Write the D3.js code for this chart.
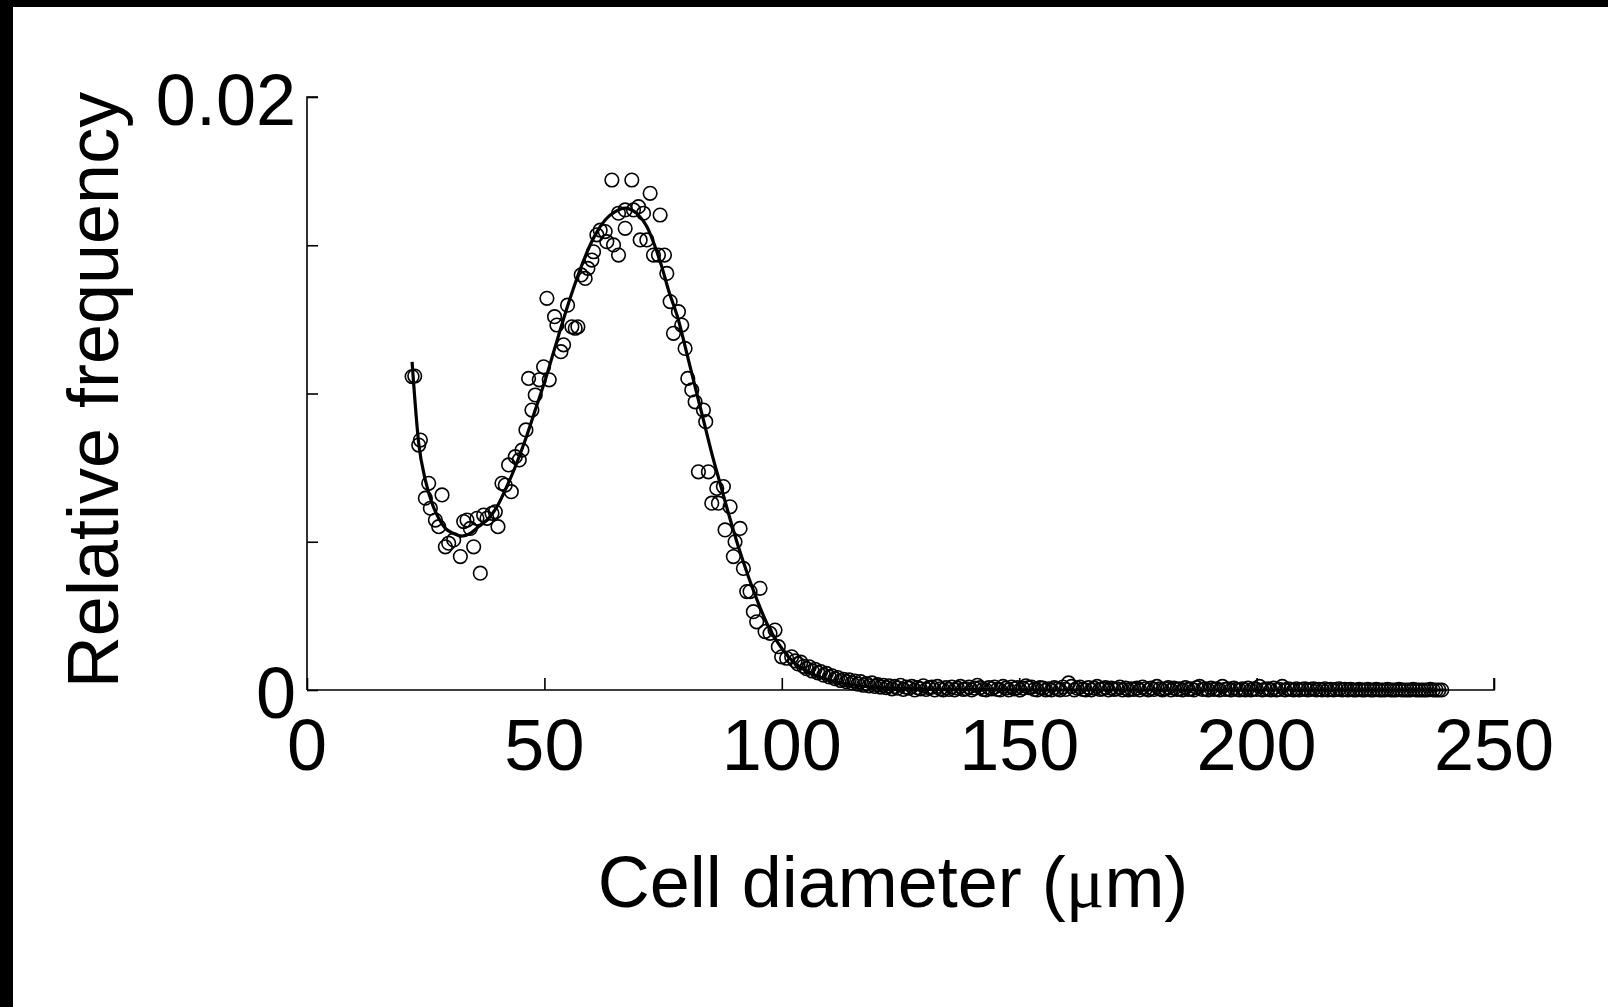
<!DOCTYPE html>
<html>
<head>
<meta charset="utf-8">
<script src="https://cdn.jsdelivr.net/npm/d3@7"></script>
<style>
  html, body { margin: 0; padding: 0; background: #fff; }
  svg { display: block; }
  text { font-family: "Liberation Sans", Arial, Helvetica, sans-serif; fill: #000; }
</style>
</head>
<body>
<svg id="chart" width="1608" height="1007"></svg>
<script>
// ---- data ----
const xTicks = [0, 50, 100, 150, 200, 250];
const xTickLabels = ["0", "50", "100", "150", "200", "250"];
const yTicks = [0, 0.005, 0.01, 0.015, 0.02];
const yTickLabels = ["0", "", "", "", "0.02"];

// measured points, main part (diameter in µm, relative frequency)
const humpDiameters = [22.13,22.69,23.53,23.88,24.93,25.63,25.98,27.04,27.74,28.44,29.14,29.84,30.89,32.30,33.00,33.70,34.40,35.10,35.80,36.50,37.20,37.91,38.96,39.66,40.22,41.06,41.76,42.46,43.03,43.87,44.71,45.27,46.11,46.67,47.37,48.07,48.92,49.83,50.53,51.02,52.14,52.63,53.48,54.04,54.88,55.79,56.49,57.05,57.75,58.59,59.16,60.00,60.35,61.05,61.75,62.80,63.15,64.21,64.56,65.61,65.61,67.01,67.01,68.41,68.76,69.81,70.17,70.87,71.57,72.27,72.97,74.02,74.37,75.29,75.78,76.48,77.18,78.23,78.93,79.63,80.20,81.04,81.74,82.44,83.49,83.98,84.54,85.25,86.30,86.65,87.70,88.05,89.10,89.80,90.15,91.21,91.91,92.61,93.31,94.01,94.71,95.41,96.47,97.52,98.57,99.27,99.97,101.02,102.08];
const humpFrequencies = [0.01057,0.01059,0.00826,0.00843,0.00647,0.00697,0.00613,0.00573,0.00551,0.00658,0.00483,0.00495,0.00506,0.00450,0.00568,0.00573,0.00545,0.00483,0.00579,0.00394,0.00590,0.00579,0.00596,0.00601,0.00551,0.00697,0.00691,0.00759,0.00669,0.00787,0.00776,0.00809,0.00877,0.01051,0.00944,0.00995,0.01046,0.01090,0.01321,0.01046,0.01259,0.01231,0.01141,0.01164,0.01298,0.01225,0.01220,0.01225,0.01400,0.01388,0.01422,0.01450,0.01478,0.01535,0.01551,0.01546,0.01512,0.01720,0.01501,0.01467,0.01608,0.01557,0.01619,0.01720,0.01619,0.01630,0.01518,0.01608,0.01518,0.01675,0.01467,0.01467,0.01602,0.01467,0.01405,0.01310,0.01203,0.01276,0.01231,0.01152,0.01051,0.01012,0.00972,0.00736,0.00944,0.00905,0.00736,0.00630,0.00680,0.00630,0.00686,0.00540,0.00618,0.00450,0.00500,0.00545,0.00410,0.00332,0.00332,0.00264,0.00230,0.00343,0.00197,0.00191,0.00202,0.00146,0.00112,0.00107,0.00112];

// measured points, tail (bins from 102.8 µm every 0.6 µm)
const tailStart = 102.8, tailStep = 0.6;
const tailFrequencies = [
  0.00098,0.00088,0.00094,0.00080,0.00072,0.00078,0.00064,0.00070,0.00058,0.00062,
  0.00050,0.00056,0.00044,0.00048,0.00038,0.00042,0.00032,0.00036,0.00028,0.00034,
  0.00024,0.00030,0.00020,0.00028,0.00016,0.00022,0.00014,0.00024,0.00012,0.00018,
  0.00010,0.00016,0.00008,0.00014,0.00004,0.00012,0.00006,0.00016,0.00002,0.00010,
  0.00006,0.00012,0.00000,0.00008,0.00004,0.00014,0.00002,0.00008,0.00010,0.00000,
  0.00012,0.00004,0.00000,0.00008,0.00002,0.00010,0.00000,0.00006,0.00012,0.00002,
  0.00004,0.00010,0.00000,0.00006,0.00016,0.00008,0.00002,0.00000,0.00008,0.00004,
  0.00010,0.00002,0.00000,0.00012,0.00006,0.00000,0.00010,0.00004,0.00008,0.00000,
  0.00006,0.00014,0.00008,0.00010,0.00002,0.00000,0.00008,0.00006,0.00000,0.00004,
  0.00000,0.00008,0.00004,0.00000,0.00010,0.00002,0.00024,0.00012,0.00000,0.00006,
  0.00010,0.00002,0.00000,0.00008,0.00000,0.00006,0.00012,0.00002,0.00004,0.00008,
  0.00000,0.00006,0.00002,0.00004,0.00010,0.00000,0.00006,0.00000,0.00004,0.00002,
  0.00006,0.00000,0.00010,0.00004,0.00000,0.00006,0.00002,0.00012,0.00004,0.00000,
  0.00004,0.00008,0.00000,0.00006,0.00002,0.00004,0.00000,0.00008,0.00002,0.00004,
  0.00000,0.00008,0.00012,0.00002,0.00004,0.00000,0.00006,0.00002,0.00004,0.00000,
  0.00012,0.00002,0.00004,0.00000,0.00006,0.00002,0.00000,0.00004,0.00000,0.00006,
  0.00000,0.00004,0.00002,0.00012,0.00000,0.00002,0.00004,0.00000,0.00006,0.00000,
  0.00002,0.00012,0.00000,0.00004,0.00002,0.00000,0.00004,0.00000,0.00002,0.00004,
  0.00000,0.00002,0.00004,0.00000,0.00002,0.00000,0.00004,0.00000,0.00002,0.00000,
  0.00002,0.00004,0.00000,0.00002,0.00000,0.00002,0.00000,0.00000,0.00002,0.00000,
  0.00000,0.00002,0.00000,0.00000,0.00002,0.00000,0.00000,0.00000,0.00002,0.00000,
  0.00000,0.00000,0.00002,0.00000,0.00000,0.00000,0.00000,0.00002,0.00000,0.00000,
  0.00000,0.00000,0.00000,0.00002,0.00000,0.00000,0.00000,0.00000
];

// fitted curve
const fitDiameters = [22.13,23.53,24.93,26.33,27.74,29.14,30.89,32.64,34.40,36.15,38.25,40.01,41.76,43.87,45.97,48.07,50.18,52.28,54.39,56.49,58.59,60.70,62.80,64.91,67.01,68.41,69.81,71.57,73.32,74.72,76.13,78.23,79.98,81.74,83.49,85.25,87.00,88.76,90.86,92.97,95.07,97.17,99.27,101.38,102.78,106,110,115,120,130,140,150,240];
const fitFrequencies = [0.01107,0.00832,0.00708,0.00630,0.00579,0.00545,0.00528,0.00519,0.00528,0.00551,0.00579,0.00618,0.00675,0.00753,0.00843,0.00944,0.01046,0.01158,0.01270,0.01372,0.01462,0.01535,0.01585,0.01613,0.01625,0.01619,0.01602,0.01563,0.01495,0.01428,0.01349,0.01248,0.01136,0.01023,0.00911,0.00798,0.00697,0.00596,0.00483,0.00382,0.00292,0.00214,0.00157,0.00112,0.00090,0.00058,0.00034,0.00017,0.00009,0.00003,0.00001,0,0];

const xTitleParts = ["Cell diameter (", "\u03bc", "m)"];
const yTitle = "Relative frequency";

// ---- build ----
const points = humpDiameters.map((d, i) => ({ d, f: humpFrequencies[i] }))
  .concat(tailFrequencies.map((f, i) => ({ d: tailStart + i * tailStep, f })));
const fit = fitDiameters.map((d, i) => ({ d, f: fitFrequencies[i] }));

const svg = d3.select("#chart");
const x = d3.scaleLinear().domain([0, 250]).range([307, 1494]);
const y = d3.scaleLinear().domain([0, 0.02]).range([690, 97]);

svg.append("rect").attr("x", 0).attr("y", 0).attr("width", 1608).attr("height", 1007).attr("fill", "#fff");
// black frame edges
svg.append("rect").attr("x", 0).attr("y", 0).attr("width", 1608).attr("height", 7).attr("fill", "#000");
svg.append("rect").attr("x", 0).attr("y", 0).attr("width", 13).attr("height", 1007).attr("fill", "#000");

// axes
const xAxis = d3.axisBottom(x).tickValues(xTicks).tickSize(-12).tickFormat("");
const gx = svg.append("g").attr("transform", "translate(0,690)").call(xAxis);
gx.select(".domain").attr("d", `M${x(0)},0H${x(250)}V-12`);
gx.selectAll("line, path").attr("stroke", "#000").attr("stroke-width", 1.6);

const yAxis = d3.axisLeft(y).tickValues(yTicks).tickSize(-11).tickFormat("");
const gy = svg.append("g").attr("transform", "translate(307,0)").call(yAxis);
gy.select(".domain").attr("d", `M11,${y(0.02)}H0V${y(0)}`);
gy.selectAll("line, path").attr("stroke", "#000").attr("stroke-width", 1.6);

// tick labels
svg.append("g").selectAll("text").data(xTicks).join("text")
  .attr("x", d => x(d)).attr("y", 770)
  .attr("text-anchor", "middle").attr("font-size", 72)
  .text((d, i) => xTickLabels[i]);
svg.append("g").selectAll("text").data(yTicks.filter((d, i) => yTickLabels[i] !== "")).join("text")
  .attr("x", 296).attr("y", d => y(d) + 28)
  .attr("text-anchor", "end").attr("font-size", 72)
  .text(d => yTickLabels[yTicks.indexOf(d)]);

// titles
const xt = svg.append("text").attr("x", 893).attr("y", 907).attr("text-anchor", "middle")
  .attr("font-size", 72);
xt.append("tspan").text(xTitleParts[0]);
xt.append("tspan").attr("font-family", "'Liberation Serif', 'DejaVu Serif', serif").text(xTitleParts[1]);
xt.append("tspan").text(xTitleParts[2]);
svg.append("text").attr("transform", "translate(118,390) rotate(-90)").attr("text-anchor", "middle")
  .attr("font-size", 72).text(yTitle);

// points
svg.append("g").selectAll("circle").data(points).join("circle")
  .attr("cx", p => x(p.d)).attr("cy", p => y(p.f)).attr("r", 6.8)
  .attr("fill", "none").attr("stroke", "#000").attr("stroke-width", 1.6);

// fitted curve
const line = d3.line().x(p => x(p.d)).y(p => y(p.f)).curve(d3.curveMonotoneX);
svg.append("path").datum(fit).attr("d", line)
  .attr("fill", "none").attr("stroke", "#000").attr("stroke-width", 3.2);
</script>
</body>
</html>
